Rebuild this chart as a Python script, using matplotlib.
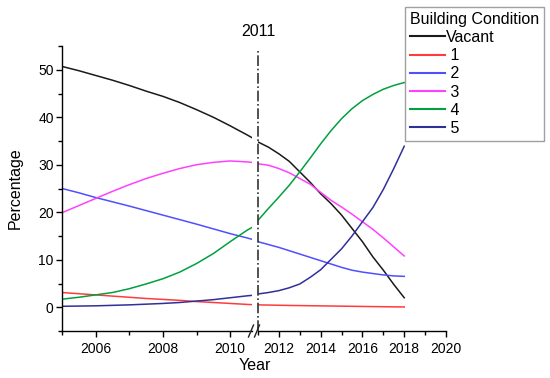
import matplotlib
matplotlib.use("Agg")
import matplotlib.pyplot as plt
from matplotlib.ticker import MultipleLocator

plt.rcParams["font.family"] = ["Liberation Sans", "DejaVu Sans"]

# years on each side of the axis break (read every half year)
years_before = [2005, 2005.5, 2006, 2006.5, 2007, 2007.5, 2008, 2008.5,
                2009, 2009.5, 2010, 2010.5, 2010.65]
years_after = [2011, 2011.5, 2012, 2012.5, 2013, 2013.5, 2014, 2014.5,
               2015, 2015.5, 2016, 2016.5, 2017, 2017.5, 2018]

series_names = ["Vacant", "1", "2", "3", "4", "5"]
series_colors = ["#1a1a1a", "#ff3b3b", "#4f4fff", "#ff40ff", "#00a040", "#30309a"]

vacant_before = [50.7, 49.8, 48.8, 47.8, 46.7, 45.5, 44.4, 43.1, 41.6, 40.0, 38.2, 36.3, 35.7]
vacant_after = [34.8, 33.7, 32.3, 30.7, 28.5, 26.3, 23.9, 21.8, 19.4, 16.6, 13.8, 10.6, 7.8, 4.8, 2.0]
c1_before = [3.1, 2.85, 2.6, 2.35, 2.1, 1.85, 1.65, 1.45, 1.2, 1.0, 0.8, 0.6, 0.55]
c1_after = [0.5, 0.46, 0.42, 0.38, 0.35, 0.32, 0.29, 0.26, 0.23, 0.2, 0.17, 0.14, 0.11, 0.08, 0.06]
c2_before = [25.0, 24.1, 23.1, 22.2, 21.3, 20.35, 19.4, 18.45, 17.5, 16.5, 15.5, 14.6, 14.3]
c2_after = [13.8, 13.2, 12.6, 11.9, 11.2, 10.5, 9.8, 9.1, 8.4, 7.8, 7.4, 7.1, 6.8, 6.6, 6.5]
c3_before = [19.9, 21.4, 22.9, 24.4, 25.8, 27.1, 28.2, 29.2, 30.0, 30.5, 30.8, 30.6, 30.5]
c3_after = [30.2, 29.9, 29.2, 28.3, 27.1, 25.9, 24.2, 22.5, 21.1, 19.6, 18.0, 16.4, 14.6, 12.7, 10.8]
c4_before = [1.7, 2.1, 2.6, 3.1, 3.9, 4.9, 6.0, 7.4, 9.2, 11.3, 13.8, 16.2, 16.8]
c4_after = [18.3, 20.8, 23.2, 25.7, 28.5, 31.4, 34.4, 37.2, 39.7, 41.8, 43.5, 44.8, 45.9, 46.7, 47.3]
c5_before = [0.2, 0.25, 0.3, 0.4, 0.5, 0.65, 0.8, 1.0, 1.3, 1.6, 2.0, 2.4, 2.5]
c5_after = [2.8, 3.1, 3.5, 4.1, 4.9, 6.3, 7.9, 10.1, 12.3, 15.0, 18.0, 21.0, 24.8, 29.2, 33.9]

before = [vacant_before, c1_before, c2_before, c3_before, c4_before, c5_before]
after = [vacant_after, c1_after, c2_after, c3_after, c4_after, c5_after]

W, H = 550, 378
fig = plt.figure(figsize=(W / 100, H / 100), dpi=100)
ax1 = fig.add_axes([62 / W, 1 - 331 / H, 190 / W, 285 / H])
ax2 = fig.add_axes([258 / W, 1 - 331 / H, 188 / W, 285 / H], sharey=ax1)

handles = []
for name, color, yb, ya in zip(series_names, series_colors, before, after):
    ax1.plot(years_before, yb, color=color, lw=1.1)
    (h,) = ax2.plot(years_after, ya, color=color, lw=1.1)
    h.set_label(name if name == "Vacant" else " " + name)
    handles.append(h)

ax1.set_xlim(2005, 2010.65)
ax2.set_xlim(2011, 2020)
ax1.set_ylim(-5, 55)

for ax in (ax1, ax2):
    ax.spines["top"].set_visible(False)
    ax.spines["right"].set_visible(False)
    ax.spines["bottom"].set_linewidth(1.0)
    ax.tick_params(labelsize=10, width=1.0, length=4, direction="out", pad=4)
    ax.tick_params(which="minor", width=1.0, length=3)
    ax.patch.set_alpha(0)

ax2.spines["left"].set_visible(False)
ax2.tick_params(axis="y", which="both", left=False, labelleft=False)
ax1.spines["left"].set_linewidth(1.0)

ax1.xaxis.set_major_locator(MultipleLocator(2))
ax1.xaxis.set_minor_locator(MultipleLocator(1))
ax2.xaxis.set_major_locator(MultipleLocator(2))
ax2.xaxis.set_minor_locator(MultipleLocator(1))
ax1.yaxis.set_major_locator(MultipleLocator(10))
ax1.yaxis.set_minor_locator(MultipleLocator(5))
ax1.tick_params(axis="y", pad=2)

# dash-dot separator at 2011
ax2.axvline(2011, color="#333333", lw=1.2, ls="-.", ymin=0, ymax=0.99, clip_on=False)
fig.text(258 / W, 1 - 32 / H, "2011", ha="center", va="center", fontsize=11.5)

# axis break marks
for x0 in (248.5, 254.5):
    fig.add_artist(plt.Line2D([x0 / W, (x0 + 5) / W], [1 - 337 / H, 1 - 325 / H],
                              color="#222222", lw=1.0))

fig.text(255 / W, 1 - 366 / H, "Year", ha="center", va="center", fontsize=11.5)
fig.text(15 / W, 1 - 188 / H, "Percentage", ha="center", va="center",
         rotation=90, fontsize=11.5)

leg = ax2.legend(handles=handles, title="Building Condition", loc="upper left",
                 bbox_to_anchor=(405 / W, 1 - 7 / H), bbox_transform=fig.transFigure,
                 borderaxespad=0, fontsize=11.5, title_fontsize=11.5,
                 frameon=True, fancybox=False, edgecolor="#888888",
                 handlelength=2.2, handletextpad=0.05, labelspacing=0.2,
                 borderpad=0.3, alignment="left")
leg.get_frame().set_linewidth(1.0)
for line in leg.get_lines():
    line.set_linewidth(1.5)
leg.set_clip_on(False)

fig.savefig("out.png", dpi=100)
